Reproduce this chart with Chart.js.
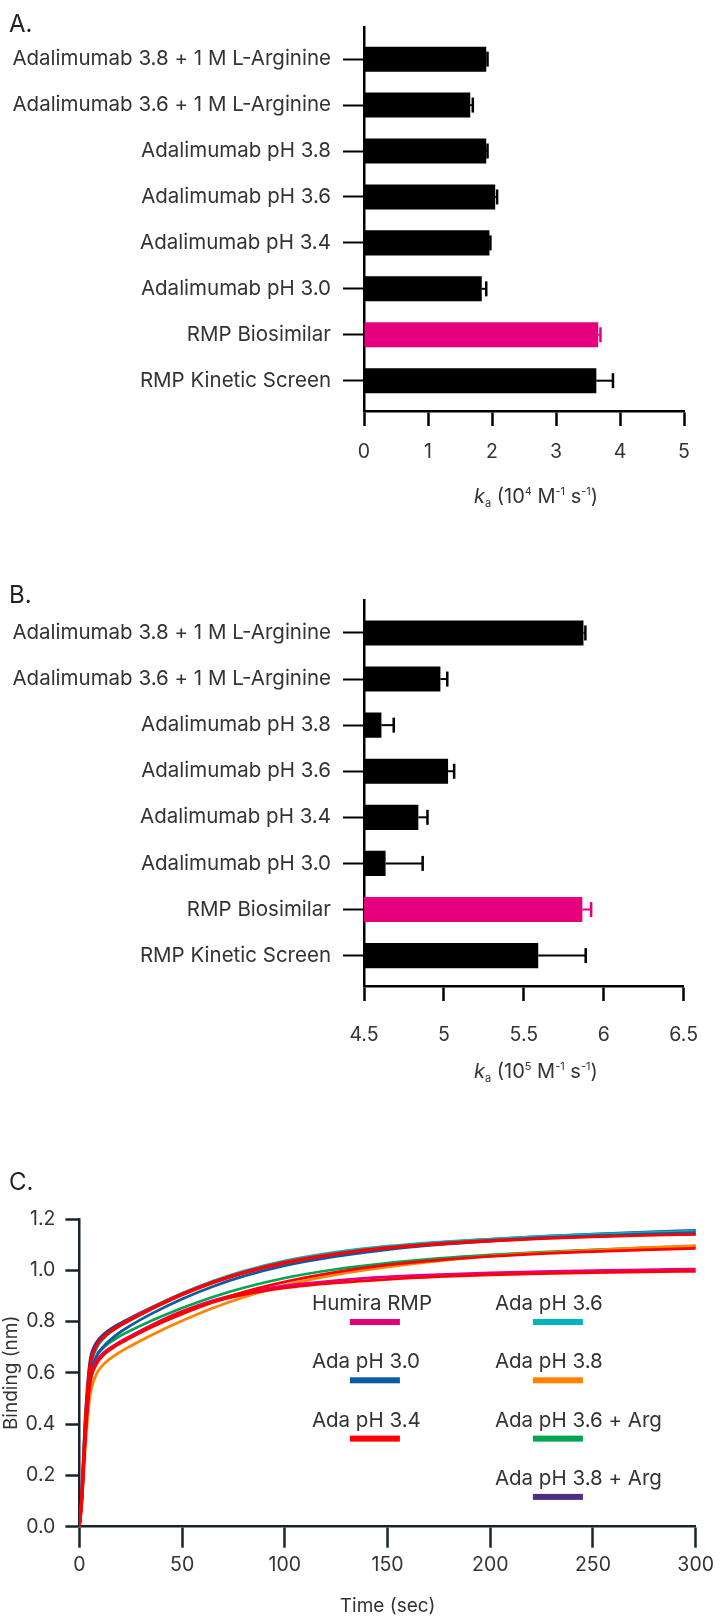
<!DOCTYPE html>
<html>
<head>
<meta charset="utf-8">
<title>Adalimumab binding kinetics</title>
<script src="https://cdn.jsdelivr.net/npm/chart.js@4.4.1/dist/chart.umd.min.js"></script>
<style>
  html, body { margin: 0; padding: 0; background: #ffffff; }
  #page { position: relative; width: 720px; height: 1619px; overflow: hidden; font-family: Inter, sans-serif; }
  .panel { position: absolute; left: 0; width: 720px; }
  .tag { position: absolute; left: 9px; font: 400 24px/24px Inter, sans-serif; color: #222222; }
  canvas { display: block; }
</style>
</head>
<body>
<div id="page">
  <div class="panel" style="top:0px;height:530px"><canvas id="chartA" width="720" height="530"></canvas></div>
  <div class="panel" style="top:560px;height:530px"><canvas id="chartB" width="720" height="530"></canvas></div>
  <div class="panel" style="top:1100px;height:519px"><canvas id="chartC" width="720" height="519"></canvas></div>
  <div class="tag" style="top:12px">A.</div>
  <div class="tag" style="top:583px">B.</div>
  <div class="tag" style="top:1170px">C.</div>
</div>
<script>
// ---- data -------------------------------------------------------------
const samples = [
  'Adalimumab 3.8 + 1 M L-Arginine',
  'Adalimumab 3.6 + 1 M L-Arginine',
  'Adalimumab pH 3.8',
  'Adalimumab pH 3.6',
  'Adalimumab pH 3.4',
  'Adalimumab pH 3.0',
  'RMP Biosimilar',
  'RMP Kinetic Screen'
];

// association rate ka, 10^4 M^-1 s^-1, with error
const kaA    = [1.91, 1.66, 1.91, 2.05, 1.96, 1.84, 3.66, 3.63];
const kaErrA = [0.02, 0.04, 0.02, 0.03, 0.015, 0.07, 0.035, 0.26];
const ticksA = [0, 1, 2, 3, 4, 5];

// association rate ka, 10^5 M^-1 s^-1, with error
const kaB    = [5.873, 4.978, 4.609, 5.026, 4.840, 4.635, 5.866, 5.590];
const kaErrB = [0.012, 0.043, 0.077, 0.038, 0.057, 0.232, 0.055, 0.297];
const ticksB = [4.5, 5, 5.5, 6, 6.5];

// binding traces (nm) against time (sec)
const timeSec    = [0, 1, 2, 3, 5, 8, 12, 18, 25, 35, 50, 65, 80, 100, 125, 150, 175, 200, 225, 250, 275, 300];
const humiraRmp  = [0, 0.08, 0.22, 0.37, 0.56, 0.64, 0.68, 0.713, 0.744, 0.786, 0.840, 0.882, 0.912, 0.939, 0.960, 0.974, 0.983, 0.990, 0.995, 0.999, 1.002, 1.005];
const adaPh30    = [0, 0.09, 0.24, 0.38, 0.57, 0.66, 0.705, 0.748, 0.785, 0.830, 0.888, 0.937, 0.977, 1.018, 1.054, 1.081, 1.100, 1.114, 1.125, 1.134, 1.141, 1.147];
const adaPh34    = [0, 0.11, 0.27, 0.43, 0.62, 0.70, 0.742, 0.778, 0.810, 0.852, 0.908, 0.955, 0.993, 1.032, 1.065, 1.089, 1.105, 1.117, 1.126, 1.133, 1.138, 1.142];
const adaPh36    = [0, 0.10, 0.26, 0.41, 0.60, 0.69, 0.735, 0.775, 0.810, 0.853, 0.910, 0.958, 0.997, 1.037, 1.071, 1.094, 1.110, 1.122, 1.132, 1.140, 1.147, 1.153];
const adaPh38    = [0, 0.07, 0.19, 0.32, 0.50, 0.59, 0.635, 0.672, 0.705, 0.747, 0.803, 0.853, 0.895, 0.941, 0.983, 1.013, 1.037, 1.055, 1.068, 1.079, 1.088, 1.096];
const adaPh36Arg = [0, 0.09, 0.24, 0.39, 0.58, 0.66, 0.70, 0.735, 0.765, 0.803, 0.853, 0.896, 0.932, 0.970, 1.004, 1.028, 1.046, 1.060, 1.071, 1.080, 1.087, 1.093];
const adaPh38Arg = [0, 0.12, 0.29, 0.45, 0.64, 0.715, 0.752, 0.785, 0.815, 0.855, 0.908, 0.953, 0.990, 1.029, 1.064, 1.090, 1.108, 1.121, 1.132, 1.141, 1.149, 1.156];
// fitted association curves laid over the traces
const fitHigh    = [0, 0.10, 0.26, 0.42, 0.61, 0.70, 0.74, 0.775, 0.806, 0.848, 0.904, 0.951, 0.989, 1.028, 1.062, 1.086, 1.102, 1.114, 1.123, 1.130, 1.136, 1.140];
const fitMid     = [0, 0.08, 0.22, 0.36, 0.55, 0.63, 0.672, 0.708, 0.738, 0.778, 0.830, 0.876, 0.915, 0.955, 0.993, 1.021, 1.040, 1.054, 1.065, 1.073, 1.080, 1.085];
const fitLow     = [0, 0.08, 0.22, 0.37, 0.55, 0.63, 0.672, 0.706, 0.738, 0.781, 0.836, 0.876, 0.905, 0.931, 0.951, 0.965, 0.975, 0.982, 0.987, 0.991, 0.994, 0.996];
const ticksTime    = [0, 50, 100, 150, 200, 250, 300];
const ticksBinding = [0, 0.2, 0.4, 0.6, 0.8, 1.0, 1.2];

// ---- styling ----------------------------------------------------------
const PINK = '#E6007E';
const TEXT = '#333333';
const FONT = 'Inter, sans-serif';
Chart.defaults.font.family = FONT;

const barColor = samples.map(s => s === 'RMP Biosimilar' ? PINK : '#000000');

// draws a run of text pieces (italic, sub/superscript) centred on cx, cy
function drawRuns(ctx, runs, cx, cy) {
  ctx.save();
  ctx.fillStyle = TEXT;
  ctx.textAlign = 'left';
  ctx.textBaseline = 'alphabetic';
  const fontOf = r => (r.italic ? 'italic ' : '') + r.size + 'px ' + FONT;
  let total = 0;
  const widths = runs.map(r => { ctx.font = fontOf(r); const w = ctx.measureText(r.text).width; total += w; return w; });
  let x = cx - total / 2;
  const base = cy + 7;
  runs.forEach((r, i) => {
    ctx.font = fontOf(r);
    ctx.fillText(r.text, x, base + (r.shift || 0));
    x += widths[i];
  });
  ctx.restore();
}

function kaTitle(power) {
  return [
    { text: 'k', size: 20, italic: true },
    { text: 'a', size: 11, shift: 4 },
    { text: ' (10', size: 20 },
    { text: power, size: 11, shift: -8 },
    { text: ' M', size: 20 },
    { text: '-1', size: 11, shift: -8 },
    { text: ' s', size: 20 },
    { text: '-1', size: 11, shift: -8 },
    { text: ')', size: 20 }
  ];
}

function errorBarPlugin(errors) {
  return {
    id: 'errorBars',
    afterDatasetsDraw(chart) {
      const ctx = chart.ctx;
      const xs = chart.scales.x;
      const ds = chart.data.datasets[0];
      ctx.save();
      chart.getDatasetMeta(0).data.forEach((bar, i) => {
        const end = xs.getPixelForValue(ds.data[i].x + errors[i]);
        ctx.strokeStyle = ds.backgroundColor[i];
        ctx.lineWidth = 2;
        ctx.beginPath();
        ctx.moveTo(bar.x, bar.y);
        ctx.lineTo(end, bar.y);
        ctx.stroke();
        ctx.lineWidth = 2.5;
        ctx.beginPath();
        ctx.moveTo(end, bar.y - 7.5);
        ctx.lineTo(end, bar.y + 7.5);
        ctx.stroke();
      });
      ctx.restore();
    }
  };
}

function axisTitlePlugin(runs, dx, dy) {
  return {
    id: 'axisTitle',
    afterDraw(chart) {
      const a = chart.chartArea;
      drawRuns(chart.ctx, runs, (a.left + a.right) / 2 + dx, chart.scales.x.top + dy);
    }
  };
}

function kaChart(id, values, errors, ticks, min, max, power, geo) {
  return new Chart(document.getElementById(id), {
    type: 'bar',
    data: {
      datasets: [{
        data: values.map((v, i) => ({ x: v, y: i })),
        backgroundColor: barColor,
        borderWidth: 0,
        barPercentage: 0.545,
        categoryPercentage: 1
      }]
    },
    options: {
      indexAxis: 'y',
      responsive: false,
      animation: false,
      devicePixelRatio: 1,
      layout: { padding: { top: geo.top, right: 720 - geo.right, left: 0, bottom: 0 } },
      plugins: { legend: { display: false }, tooltip: { enabled: false } },
      scales: {
        y: {
          type: 'linear',
          reverse: true,
          offset: false,
          min: -0.7,
          max: samples.length - 0.34,
          afterBuildTicks: s => { s.ticks = samples.map((_, i) => ({ value: i })); },
          afterFit: s => { s.width = geo.left; },
          grid: { drawOnChartArea: false, drawTicks: true, tickLength: 21, tickWidth: 2, color: '#000000', offset: false },
          border: { display: true, color: '#000000', width: 2.5 },
          ticks: { callback: v => samples[v], color: TEXT, font: { size: 20.5 }, padding: 12, autoSkip: false }
        },
        x: {
          type: 'linear',
          min: min,
          max: max,
          afterBuildTicks: s => { s.ticks = ticks.map(v => ({ value: v })); },
          afterFit: s => { s.height = geo.height - geo.bottom; },
          grid: { drawOnChartArea: false, drawTicks: true, tickLength: 15, tickWidth: 2.5, color: '#000000' },
          border: { display: true, color: '#000000', width: 2.5 },
          ticks: { callback: v => String(v), color: TEXT, font: { size: 19.5 }, padding: geo.tickPad, autoSkip: false, maxRotation: 0 }
        }
      }
    },
    plugins: [errorBarPlugin(errors), axisTitlePlugin(kaTitle(power), 12, 85)]
  });
}

kaChart('chartA', kaA, kaErrA, ticksA, 0, 5, '4',
  { top: 27, bottom: 411, left: 364, right: 684, height: 530, tickPad: 14 });
kaChart('chartB', kaB, kaErrB, ticksB, 4.5, 6.5, '5',
  { top: 40.7, bottom: 426, left: 364, right: 684, height: 530, tickPad: 22 });

// ---- binding traces ---------------------------------------------------
const AXIS_C = '#17242E';
const series = [
  { label: 'Humira RMP',       values: humiraRmp,  color: '#E4007C' },
  { label: 'Ada pH 3.0',       values: adaPh30,    color: '#0A5BA3' },
  { label: 'Ada pH 3.4',       values: adaPh34,    color: '#FF0000' },
  { label: 'Ada pH 3.6',       values: adaPh36,    color: '#00B5BF' },
  { label: 'Ada pH 3.8',       values: adaPh38,    color: '#FF8200' },
  { label: 'Ada pH 3.6 + Arg', values: adaPh36Arg, color: '#00A64F' },
  { label: 'Ada pH 3.8 + Arg', values: adaPh38Arg, color: '#4B2E86' }
];
const fits = [fitHigh, fitMid, fitLow];

const toPoints = vals => vals.map((v, i) => ({ x: timeSec[i], y: v }));

const traceSets = series.map(s => ({
  label: s.label,
  data: toPoints(s.values),
  borderColor: s.color,
  backgroundColor: s.color,
  borderWidth: 2.75,
  order: 1
}));
const fitSets = fits.map(f => ({
  label: 'fit',
  isFit: true,
  data: toPoints(f),
  borderColor: '#FF0000',
  backgroundColor: '#FF0000',
  borderWidth: 2.75,
  order: 0
}));

const plotLegend = {
  id: 'plotLegend',
  afterDraw(chart) {
    const { ctx, chartArea } = chart;
    const entries = chart.data.datasets.filter(d => !d.isFit);
    ctx.save();
    ctx.font = '20.5px ' + FONT;
    ctx.textAlign = 'left';
    ctx.textBaseline = 'alphabetic';
    entries.forEach((d, i) => {
      const col = i < 3 ? 0 : 1;
      const row = col === 0 ? i : i - 3;
      const x = chartArea.left + (col === 0 ? 232.5 : 415.5);
      const y = chartArea.top + 91 + row * 58.3;
      ctx.fillStyle = TEXT;
      ctx.fillText(d.label, x, y);
      ctx.fillStyle = d.borderColor;
      ctx.fillRect(x + 38, y + 9, 50, 6);
    });
    ctx.restore();
  }
};

new Chart(document.getElementById('chartC'), {
  type: 'line',
  data: { datasets: [...traceSets, ...fitSets] },
  options: {
    responsive: false,
    animation: false,
    devicePixelRatio: 1,
    layout: { padding: { top: 119, right: 18, left: 0, bottom: 0 } },
    elements: {
      point: { radius: 0 },
      line: { cubicInterpolationMode: 'monotone', borderCapStyle: 'round' }
    },
    plugins: { legend: { display: false }, tooltip: { enabled: false } },
    scales: {
      x: {
        type: 'linear',
        min: 0,
        max: 300,
        afterBuildTicks: s => { s.ticks = ticksTime.map(v => ({ value: v })); },
        afterFit: s => { s.height = 519 - 426.7; },
        grid: { drawOnChartArea: false, drawTicks: true, tickLength: 21, tickWidth: 2.5, color: AXIS_C },
        border: { display: true, color: AXIS_C, width: 2.5 },
        ticks: { color: TEXT, font: { size: 19.5 }, padding: 6, maxRotation: 0, autoSkip: false },
        title: { display: true, text: 'Time (sec)', color: TEXT, font: { size: 19 }, padding: { top: 0, bottom: 1 } }
      },
      y: {
        type: 'linear',
        min: 0,
        max: 1.2,
        afterBuildTicks: s => { s.ticks = ticksBinding.map(v => ({ value: v })); },
        afterFit: s => { s.width = 79.4; },
        grid: { drawOnChartArea: false, drawTicks: true, tickLength: 14, tickWidth: 2.5, color: AXIS_C },
        border: { display: true, color: AXIS_C, width: 2.5 },
        ticks: { callback: v => v.toFixed(1), color: TEXT, font: { size: 19.5 }, padding: 10, autoSkip: false },
        title: { display: true, text: 'Binding (nm)', color: TEXT, font: { size: 19 }, padding: { top: 0, bottom: 0 } }
      }
    }
  },
  plugins: [plotLegend]
});
</script>
</body>
</html>
